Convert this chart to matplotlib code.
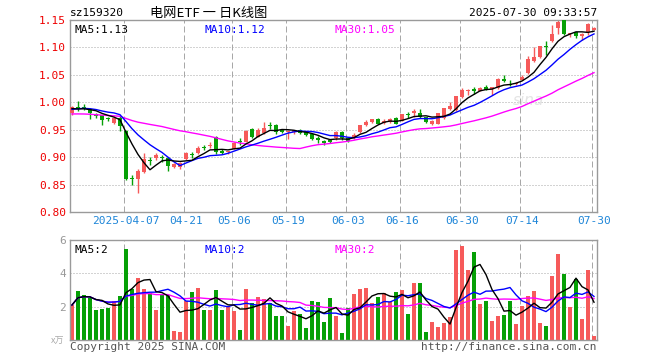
import matplotlib
matplotlib.use("Agg")
import matplotlib.pyplot as plt
import numpy as np
import pandas as pd

# ---------------- data ----------------
holidays = ["2025-04-04", "2025-05-01", "2025-05-02", "2025-05-05", "2025-06-02"]
dates = [d for d in pd.bdate_range("2025-03-24", "2025-07-30").strftime("%Y-%m-%d") if d not in holidays]

open_ = [0.980, 0.992, 0.992, 0.988, 0.979, 0.976, 0.972, 0.963, 0.972, 0.948,
         0.862, 0.861, 0.873, 0.894, 0.899, 0.900, 0.898, 0.882, 0.882, 0.897,
         0.905, 0.908, 0.917, 0.920, 0.937, 0.912, 0.909, 0.915, 0.9295, 0.928,
         0.952, 0.937, 0.944, 0.958, 0.959, 0.949, 0.946, 0.945, 0.950, 0.946,
         0.942, 0.935, 0.930, 0.932, 0.934, 0.946, 0.934, 0.935, 0.945, 0.958,
         0.964, 0.969, 0.962, 0.9645, 0.972, 0.966, 0.979, 0.980, 0.981, 0.973,
         0.961, 0.961, 0.972, 0.987, 0.986, 1.009, 1.020, 1.025, 1.021, 1.027,
         1.024, 1.026, 1.043, 1.034, 1.033, 1.041, 1.053, 1.075, 1.082, 1.103,
         1.112, 1.136, 1.150, 1.124, 1.128, 1.121, 1.128, 1.132]
high = [0.994, 1.002, 0.996, 0.989, 0.980, 0.977, 0.974, 0.975, 0.975, 0.950,
        0.868, 0.878, 0.908, 0.901, 0.908, 0.904, 0.900, 0.889, 0.891, 0.909,
        0.910, 0.921, 0.922, 0.928, 0.939, 0.915, 0.912, 0.927, 0.934, 0.949,
        0.954, 0.953, 0.964, 0.964, 0.960, 0.952, 0.949, 0.950, 0.952, 0.947,
        0.943, 0.938, 0.932, 0.933, 0.947, 0.947, 0.936, 0.944, 0.959, 0.968,
        0.970, 0.972, 0.970, 0.972, 0.973, 0.979, 0.983, 0.987, 0.988, 0.974,
        0.967, 0.981, 0.990, 1.001, 1.012, 1.026, 1.024, 1.027, 1.028, 1.031,
        1.028, 1.044, 1.050, 1.041, 1.037, 1.049, 1.084, 1.100, 1.103, 1.111,
        1.141, 1.150, 1.150, 1.127, 1.129, 1.126, 1.144, 1.137]
low = [0.977, 0.985, 0.986, 0.969, 0.972, 0.958, 0.965, 0.961, 0.948, 0.858,
       0.849, 0.835, 0.871, 0.885, 0.894, 0.892, 0.874, 0.880, 0.879, 0.895,
       0.899, 0.906, 0.913, 0.916, 0.906, 0.905, 0.906, 0.914, 0.923, 0.927,
       0.934, 0.936, 0.943, 0.952, 0.942, 0.944, 0.933, 0.943, 0.943, 0.939,
       0.931, 0.926, 0.923, 0.925, 0.932, 0.932, 0.927, 0.933, 0.944, 0.957,
       0.963, 0.960, 0.960, 0.963, 0.960, 0.965, 0.971, 0.973, 0.972, 0.963,
       0.958, 0.960, 0.970, 0.986, 0.985, 1.008, 1.014, 1.015, 1.020, 1.022,
       1.014, 1.025, 1.037, 1.030, 1.032, 1.040, 1.052, 1.074, 1.081, 1.087,
       1.110, 1.124, 1.123, 1.119, 1.118, 1.114, 1.122, 1.131]
close = [0.991, 0.988, 0.988, 0.981, 0.975, 0.967, 0.970, 0.972, 0.957, 0.861,
         0.860, 0.875, 0.896, 0.893, 0.903, 0.899, 0.883, 0.887, 0.889, 0.908,
         0.904, 0.916, 0.916, 0.922, 0.910, 0.907, 0.911, 0.926, 0.928, 0.948,
         0.936, 0.950, 0.954, 0.956, 0.946, 0.946, 0.948, 0.949, 0.944, 0.941,
         0.933, 0.932, 0.926, 0.928, 0.946, 0.934, 0.929, 0.941, 0.958, 0.964,
         0.969, 0.961, 0.966, 0.969, 0.961, 0.978, 0.977, 0.985, 0.973, 0.964,
         0.966, 0.980, 0.989, 0.994, 1.011, 1.023, 1.023, 1.021, 1.026, 1.023,
         1.027, 1.043, 1.038, 1.031, 1.035, 1.047, 1.078, 1.082, 1.102, 1.100,
         1.125, 1.147, 1.124, 1.126, 1.120, 1.125, 1.142, 1.135]
volume = [2.10, 2.97, 2.73, 2.55, 1.78, 1.86, 1.90, 2.32, 2.67, 5.45,
          3.07, 3.70, 3.09, 2.83, 1.82, 2.79, 2.71, 0.55, 0.48, 2.32,
          2.91, 3.15, 1.82, 1.82, 3.03, 1.82, 2.06, 1.76, 0.61, 3.09,
          2.24, 2.61, 2.48, 2.22, 1.45, 1.45, 0.85, 1.76, 1.58, 0.73,
          2.36, 2.30, 1.09, 2.55, 1.45, 0.42, 1.94, 2.79, 3.09, 3.15,
          2.24, 2.61, 2.85, 2.30, 2.91, 3.03, 1.58, 3.45, 3.45, 0.48,
          1.09, 0.79, 1.03, 1.39, 5.39, 5.64, 4.18, 5.27, 2.18, 2.36,
          1.15, 1.45, 1.52, 2.36, 0.97, 2.06, 2.67, 2.97, 1.03, 0.85,
          3.82, 5.15, 3.94, 2.00, 3.64, 1.27, 4.18, 0.24]
# closes of the 29 sessions before the window (estimated from where the MA lines start)
prior_close = [0.985, 0.992, 0.996, 0.998, 0.993, 0.988, 0.990, 0.984, 0.979,
               0.972, 0.965, 0.958, 0.955, 0.960, 0.957, 0.962, 0.966, 0.963, 0.961, 0.967,
               0.975, 0.982, 0.987, 0.990, 0.993, 0.992, 0.986, 0.989, 0.985]

tick_labels = ["2025-04-07", "04-21", "05-06", "05-19", "06-03", "06-16", "06-30", "07-14", "07-30"]
price_ticks = [0.80, 0.85, 0.90, 0.95, 1.00, 1.05, 1.10, 1.15]
vol_ticks = [2, 4, 6]

# ---------------- styles ----------------
RED = "#f65a5a"
GREEN = "#06a006"
GRID = "#a8a8a8"
FRAME = "#9a9a9a"
MONO = "DejaVu Sans Mono"
W, H = 660, 360

n = len(close)
x = np.arange(n)
o = np.array(open_); c = np.array(close); h = np.array(high); l = np.array(low)
up = c >= o
colors = np.where(up, RED, GREEN)

allc = pd.Series(list(prior_close) + list(close))
ma5 = allc.rolling(5, min_periods=1).mean().values[-n:]
ma10 = allc.rolling(10, min_periods=1).mean().values[-n:]
ma30 = allc.rolling(30, min_periods=1).mean().values[-n:]
vs = pd.Series(volume)
vma5 = vs.rolling(5, min_periods=1).mean().values
vma10 = vs.rolling(10, min_periods=1).mean().values
vma30 = vs.rolling(30, min_periods=1).mean().values

fig = plt.figure(figsize=(W / 100, H / 100), dpi=100)
fig.patch.set_facecolor("white")

def fx(px):
    return px / W

def fy(py):
    return 1 - py / H

ax = fig.add_axes([fx(70), fy(212), fx(597) - fx(70), fy(20) - fy(212)])
axv = fig.add_axes([fx(70), fy(340), fx(597) - fx(70), fy(240) - fy(340)])

xlim = (-0.33, n - 0.5)
date_idx = [next(i for i, d in enumerate(dates) if d.endswith(lbl[-5:])) for lbl in tick_labels]

for a in (ax, axv):
    a.set_xlim(*xlim)
    for s in a.spines.values():
        s.set_color(FRAME)
        s.set_linewidth(1.0)
    for di in date_idx:
        a.axvline(di - 0.25, color=GRID, lw=0.72, ls=(0, (6, 3)), zorder=0)

# price panel
ax.set_ylim(0.80, 1.15)
for t in price_ticks[1:-1]:
    ax.axhline(t, color=GRID, lw=0.72, ls=(0, (1, 2)), zorder=0)
body_bot = np.minimum(o, c)
body_h = np.maximum(np.abs(c - o), 0.0018)
ax.vlines(x, l, h, colors=colors, lw=1.0, zorder=2)
ax.bar(x, body_h, bottom=body_bot, width=0.68, color=colors, linewidth=0, zorder=3)
ax.plot(x, ma30, color="#ff00ff", lw=1.0, zorder=4)
ax.plot(x, ma10, color="#0000ff", lw=1.0, zorder=4)
ax.plot(x, ma5, color="black", lw=1.0, zorder=4)
ax.set_yticks(price_ticks)
ax.set_yticklabels([f"{t:.2f}" for t in price_ticks], color="#ee0000", fontsize=8, family=MONO)
ax.set_xticks(date_idx)
ax.set_xticklabels(tick_labels, color="#1f86d8", fontsize=8, family=MONO)
ax.tick_params(length=0, pad=3)

ax.text(0.008, 0.975, f"MA5:{ma5[-1]:.2f}", transform=ax.transAxes, ha="left", va="top",
        fontsize=8, family=MONO, color="black")
ax.text(0.255, 0.975, f"MA10:{ma10[-1]:.2f}", transform=ax.transAxes, ha="left", va="top",
        fontsize=8, family=MONO, color="#0000ff")
ax.text(0.502, 0.975, f"MA30:{ma30[-1]:.2f}", transform=ax.transAxes, ha="left", va="top",
        fontsize=8, family=MONO, color="#ff00ff")
ax.text(0.87, 0.58, "sina", transform=ax.transAxes, ha="center", va="center",
        fontsize=11, style="italic", color="#e4e4e4", zorder=1)

# volume panel
axv.set_ylim(0, 6)
for t in vol_ticks[:-1]:
    axv.axhline(t, color=GRID, lw=0.72, ls=(0, (1, 2)), zorder=0)
axv.bar(x, volume, width=0.82, color=colors, linewidth=0, zorder=2)
axv.plot(x, vma30, color="#ff00ff", lw=1.0, zorder=3)
axv.plot(x, vma10, color="#0000ff", lw=1.0, zorder=3)
axv.plot(x, vma5, color="black", lw=1.0, zorder=3)
axv.set_yticks(vol_ticks)
axv.set_yticklabels([str(t) for t in vol_ticks], color="#999999", fontsize=8, family=MONO)
axv.set_xticks([])
axv.tick_params(length=0, pad=3)
axv.text(0.008, 0.95, f"MA5:{int(vma5[-1])}", transform=axv.transAxes, ha="left", va="top",
         fontsize=8, family=MONO, color="black")
axv.text(0.255, 0.95, f"MA10:{int(vma10[-1])}", transform=axv.transAxes, ha="left", va="top",
         fontsize=8, family=MONO, color="#0000ff")
axv.text(0.502, 0.95, f"MA30:{int(vma30[-1])}", transform=axv.transAxes, ha="left", va="top",
         fontsize=8, family=MONO, color="#ff00ff")

# header / footer text
fig.text(fx(70), fy(13), "sz159320", ha="left", va="center", fontsize=8, family=MONO, color="black")
fig.text(fx(209), fy(13), "电网ETF 一 日K线图", ha="center", va="center", fontsize=9.5,
         family=["Noto Sans CJK SC", "DejaVu Sans"], color="black")
fig.text(fx(597), fy(13), "2025-07-30 09:33:57", ha="right", va="center", fontsize=8, family=MONO, color="black")
fig.text(fx(64), fy(341), "x万", ha="right", va="center", fontsize=6.5,
         family=["Noto Sans CJK SC", "DejaVu Sans"], color="#aaaaaa")
fig.text(fx(70), fy(347), "Copyright 2025 SINA.COM", ha="left", va="center", fontsize=8, family=MONO, color="#555555")
fig.text(fx(597), fy(347), "http://finance.sina.com.cn", ha="right", va="center", fontsize=8, family=MONO, color="#555555")

fig.savefig("out.png", dpi=100, facecolor="white")
